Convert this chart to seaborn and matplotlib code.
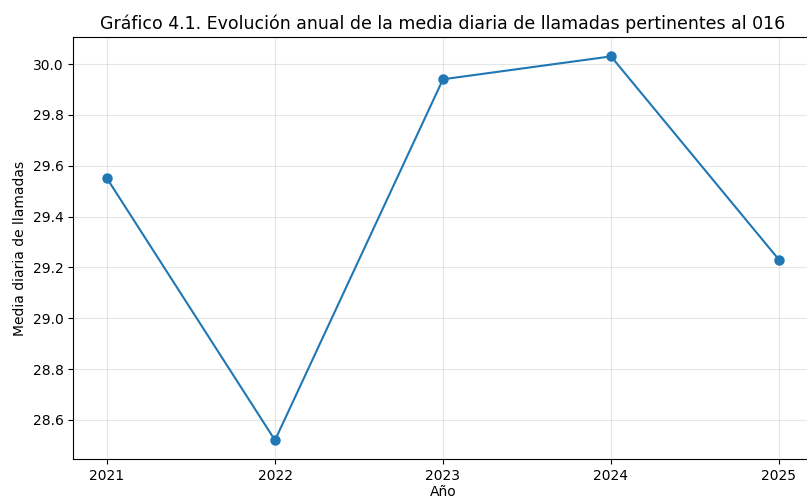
import matplotlib
matplotlib.use("Agg")
import matplotlib.pyplot as plt
import seaborn as sns
import pandas as pd

years = [2021, 2022, 2023, 2024, 2025]
media_diaria = [29.55, 28.52, 29.94, 30.03, 29.23]

df = pd.DataFrame({"Año": years, "Media": media_diaria})

W, H = 807, 499
fig = plt.figure(figsize=(W / 100, H / 100), dpi=100)
left, right = 73.4, 812.6
top, bottom = 37.2, 459.4
ax = fig.add_axes([left / W, (H - bottom) / H, (right - left) / W, (bottom - top) / H])

sns.lineplot(data=df, x="Año", y="Media", marker="o", color="#1f77b4",
             linewidth=1.5, markersize=7.5, markeredgewidth=0, ax=ax)

ax.set_xticks(years)
ax.set_xticklabels([str(y) for y in years])
ax.grid(True, alpha=0.3)
ax.set_title("Gráfico 4.1. Evolución anual de la media diaria de llamadas pertinentes al 016", fontsize=12.5)
ax.set_xlabel("Año", fontsize=10, labelpad=1)
ax.set_ylabel("Media diaria de llamadas", fontsize=10)
ax.tick_params(labelsize=10)

fig.savefig("out.png", dpi=100)
